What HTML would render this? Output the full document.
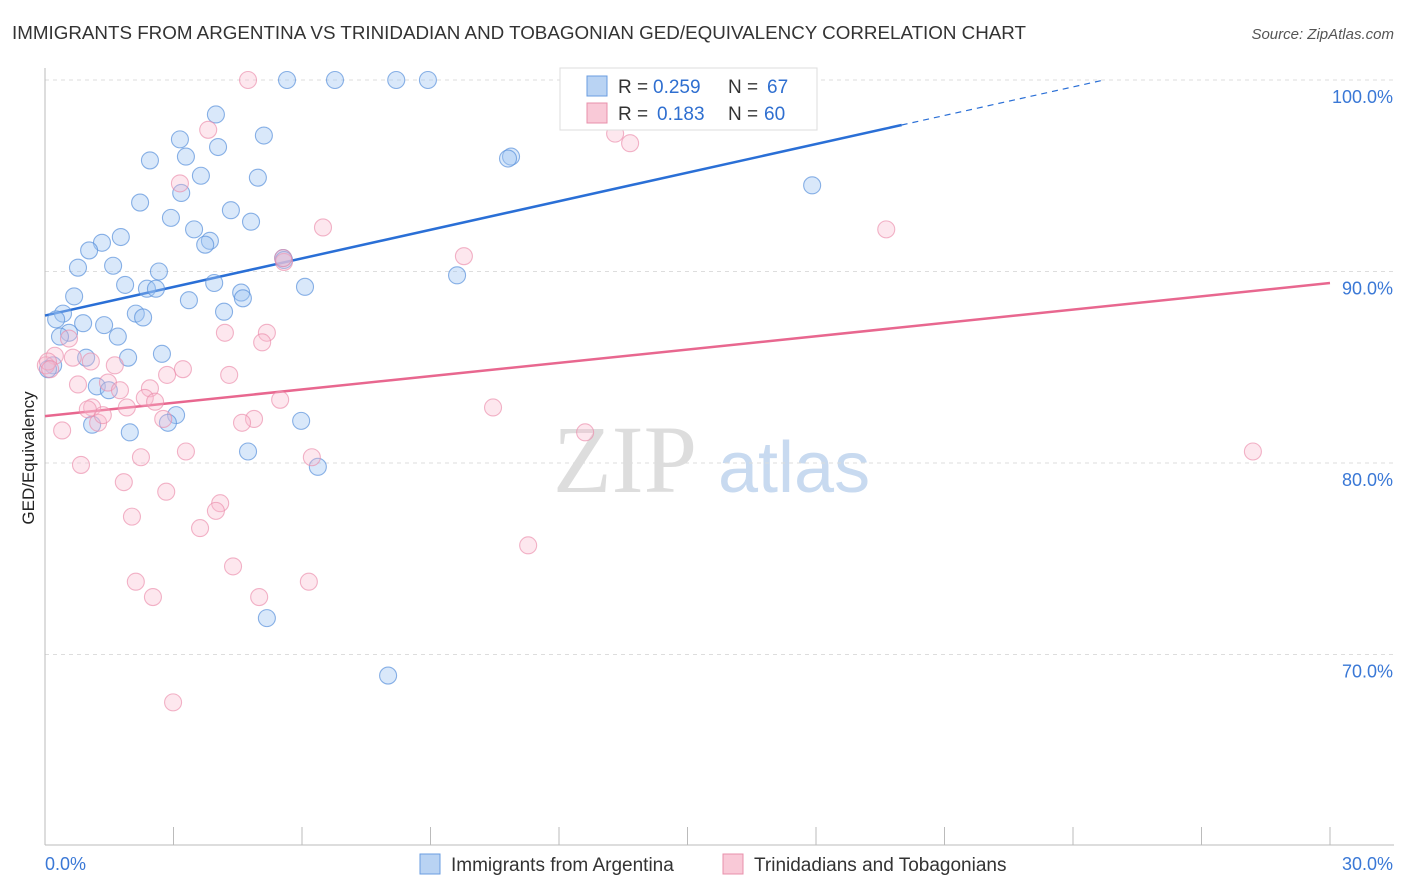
<!DOCTYPE html>
<html><head><meta charset="utf-8"><style>
body{margin:0;background:#fff;font-family:"Liberation Sans",sans-serif;}
svg{display:block}
</style></head><body>
<svg id="chart" width="1406" height="892">
<text x="12" y="39" font-size="18.8" fill="#333">IMMIGRANTS FROM ARGENTINA VS TRINIDADIAN AND TOBAGONIAN GED/EQUIVALENCY CORRELATION CHART</text>
<text x="1394" y="39" font-size="15" fill="#555" font-style="italic" text-anchor="end">Source: ZipAtlas.com</text>
<text transform="translate(34,458) rotate(-90)" font-size="17" fill="#222" text-anchor="middle">GED/Equivalency</text>
<g><text x="553" y="492" font-size="96" font-family="Liberation Serif" fill="#ddd">ZIP</text><text x="718" y="492" font-size="72" fill="#c8daf0">atlas</text></g>
<g id="grid"></g><g id="axes"></g><g id="lines"></g><g id="pts"></g>
<g>
<rect x="560" y="68" width="257" height="62" fill="#fff" stroke="#ddd"/>
<rect x="587" y="76" width="20" height="20" fill="#b9d3f3" stroke="#6a9de0"/>
<rect x="587" y="103" width="20" height="20" fill="#f9c9d7" stroke="#e890ab"/>
<text x="618" y="93" font-size="19" fill="#333">R =</text>
<text x="653" y="93" font-size="19" fill="#2f6fd0">0.259</text>
<text x="728" y="93" font-size="19" fill="#333">N =</text>
<text x="767" y="93" font-size="19" fill="#2f6fd0">67</text>
<text x="618" y="120" font-size="19" fill="#333">R =</text>
<text x="657" y="120" font-size="19" fill="#2f6fd0">0.183</text>
<text x="728" y="120" font-size="19" fill="#333">N =</text>
<text x="764" y="120" font-size="19" fill="#2f6fd0">60</text>
</g>
<g>
<rect x="420" y="854" width="20" height="20" fill="#b9d3f3" stroke="#6a9de0"/>
<text x="451" y="871" font-size="19" fill="#333">Immigrants from Argentina</text>
<rect x="723" y="854" width="20" height="20" fill="#f9c9d7" stroke="#e890ab"/>
<text x="754" y="871" font-size="19" fill="#333">Trinidadians and Tobagonians</text>
</g>
</svg>
<script>
const blueX=[5.65,6.77,8.20,8.94,3.99,5.11,3.15,4.04,2.45,3.29,10.88,10.81,3.64,4.97,3.18,2.22,4.34,2.94,4.81,3.48,1.77,3.85,1.33,3.74,1.03,5.56,0.77,1.59,2.66,9.62,1.87,3.95,6.07,2.38,2.59,4.58,0.68,4.62,3.36,0.42,4.18,2.12,2.29,0.26,0.89,1.38,0.56,0.35,1.70,2.73,1.94,0.96,0.19,0.07,1.21,1.49,3.06,5.98,1.10,2.87,1.98,4.74,6.37,5.18,8.01,17.91,5.58];
const blueY=[100,100,100,100,98.2,97.1,96.9,96.5,95.8,96.0,96.0,95.9,95.0,94.9,94.1,93.6,93.2,92.8,92.6,92.2,91.8,91.6,91.5,91.4,91.1,90.7,90.2,90.3,90.0,89.8,89.3,89.4,89.2,89.1,89.1,88.9,88.7,88.6,88.5,87.8,87.9,87.8,87.6,87.5,87.3,87.2,86.8,86.6,86.6,85.7,85.5,85.5,85.1,84.9,84.0,83.8,82.5,82.2,82.0,82.1,81.6,80.6,79.8,71.9,68.9,94.5,90.6];
const pinkX=[4.74,3.81,13.31,13.66,3.15,6.49,19.64,9.78,5.58,4.20,5.18,5.07,0.56,0.23,1.07,0.65,1.63,3.22,4.30,2.85,0.02,0.77,1.47,2.45,1.75,2.33,5.49,2.57,1.10,1.91,10.46,2.76,4.88,4.60,1.24,0.40,12.61,0.84,3.29,2.24,6.23,1.84,2.83,4.09,3.99,2.03,3.62,11.28,4.39,2.12,6.16,2.52,5.00,2.99,28.20,0.07,0.12,5.56,1.35,1.00];
const pinkY=[100,97.4,97.2,96.7,94.6,92.3,92.2,90.8,90.5,86.8,86.8,86.3,86.5,85.6,85.3,85.5,85.1,84.9,84.6,84.6,85.1,84.1,84.2,83.9,83.8,83.4,83.3,83.2,82.9,82.9,82.9,82.3,82.3,82.1,82.1,81.7,81.6,79.9,80.6,80.3,80.3,79.0,78.5,77.9,77.5,77.2,76.6,75.7,74.6,73.8,73.8,73.0,73.0,67.5,80.6,85.3,84.9,90.7,82.5,82.8];
const yTicks=[100,90,80,70];
const yTickLabels=["100.0%","90.0%","80.0%","70.0%"];
const xTicks=[0,3,6,9,12,15,18,21,24,27,30];
const xEndLabels=["0.0%","30.0%"];
const blueTrend=[87.7,97.65];
const pinkTrend=[82.45,89.4];
const NS='http://www.w3.org/2000/svg';
const sx=v=>45+v*(1285/30);
const sy=v=>80+(100-v)*19.15;
function mk(tag,attrs,parent){const e=document.createElementNS(NS,tag);for(const k in attrs)e.setAttribute(k,attrs[k]);parent.appendChild(e);return e;}
const grid=document.getElementById('grid'),axes=document.getElementById('axes'),lines=document.getElementById('lines'),pts=document.getElementById('pts');
yTicks.forEach((t,i)=>{
 const l=mk('line',{x1:45,x2:1394,y1:sy(t),y2:sy(t),stroke:'#ddd','stroke-dasharray':'4,4'},grid);
 
 
 const tx=mk('text',{x:1393,y:sy(t)+23,'font-size':18,fill:'#3a78d6','text-anchor':'end'},axes);
 tx.textContent=yTickLabels[i];
 
 
});
const ya=mk('line',{x1:45,x2:45,y1:68,y2:845,stroke:'#bbb'},axes);


const xa=mk('line',{x1:45,x2:1394,y1:845,y2:845,stroke:'#bbb'},axes);


xTicks.forEach(t=>{const l=mk('line',{x1:sx(t),x2:sx(t),y1:827,y2:845,stroke:'#bbb'},axes);
 
 });
const xl0=mk('text',{x:45,y:870,'font-size':18,fill:'#3a78d6'},axes);xl0.textContent=xEndLabels[0];


const xl1=mk('text',{x:1393,y:870,'font-size':18,fill:'#3a78d6','text-anchor':'end'},axes);xl1.textContent=xEndLabels[1];


function drawPts(X,Y,fill,stroke,name){X.forEach((x,i)=>{const c=mk('circle',{cx:sx(x),cy:sy(Y[i]),r:8.5,fill:fill,stroke:stroke,'stroke-width':1.1},pts);
 
 });}
drawPts(blueX,blueY,'rgba(160,198,242,0.4)','rgba(90,145,220,0.7)','argentina-point');
drawPts(pinkX,pinkY,'rgba(248,185,205,0.35)','rgba(235,140,170,0.65)','trinidad-point');
const bs=(blueTrend[1]-blueTrend[0])/20;
const bl=mk('line',{x1:sx(0),y1:sy(blueTrend[0]),x2:sx(20),y2:sy(blueTrend[1]),stroke:'#2a6fd6','stroke-width':2.5},lines);


const xe=(100-blueTrend[0])/bs;
const bd=mk('line',{x1:sx(20),y1:sy(blueTrend[1]),x2:sx(xe),y2:sy(100),stroke:'#2a6fd6','stroke-width':1.2,'stroke-dasharray':'6,5'},lines);


const pl=mk('line',{x1:sx(0),y1:sy(pinkTrend[0]),x2:sx(30),y2:sy(pinkTrend[1]),stroke:'#e8678f','stroke-width':2.5},lines);


</script>
</body></html>
